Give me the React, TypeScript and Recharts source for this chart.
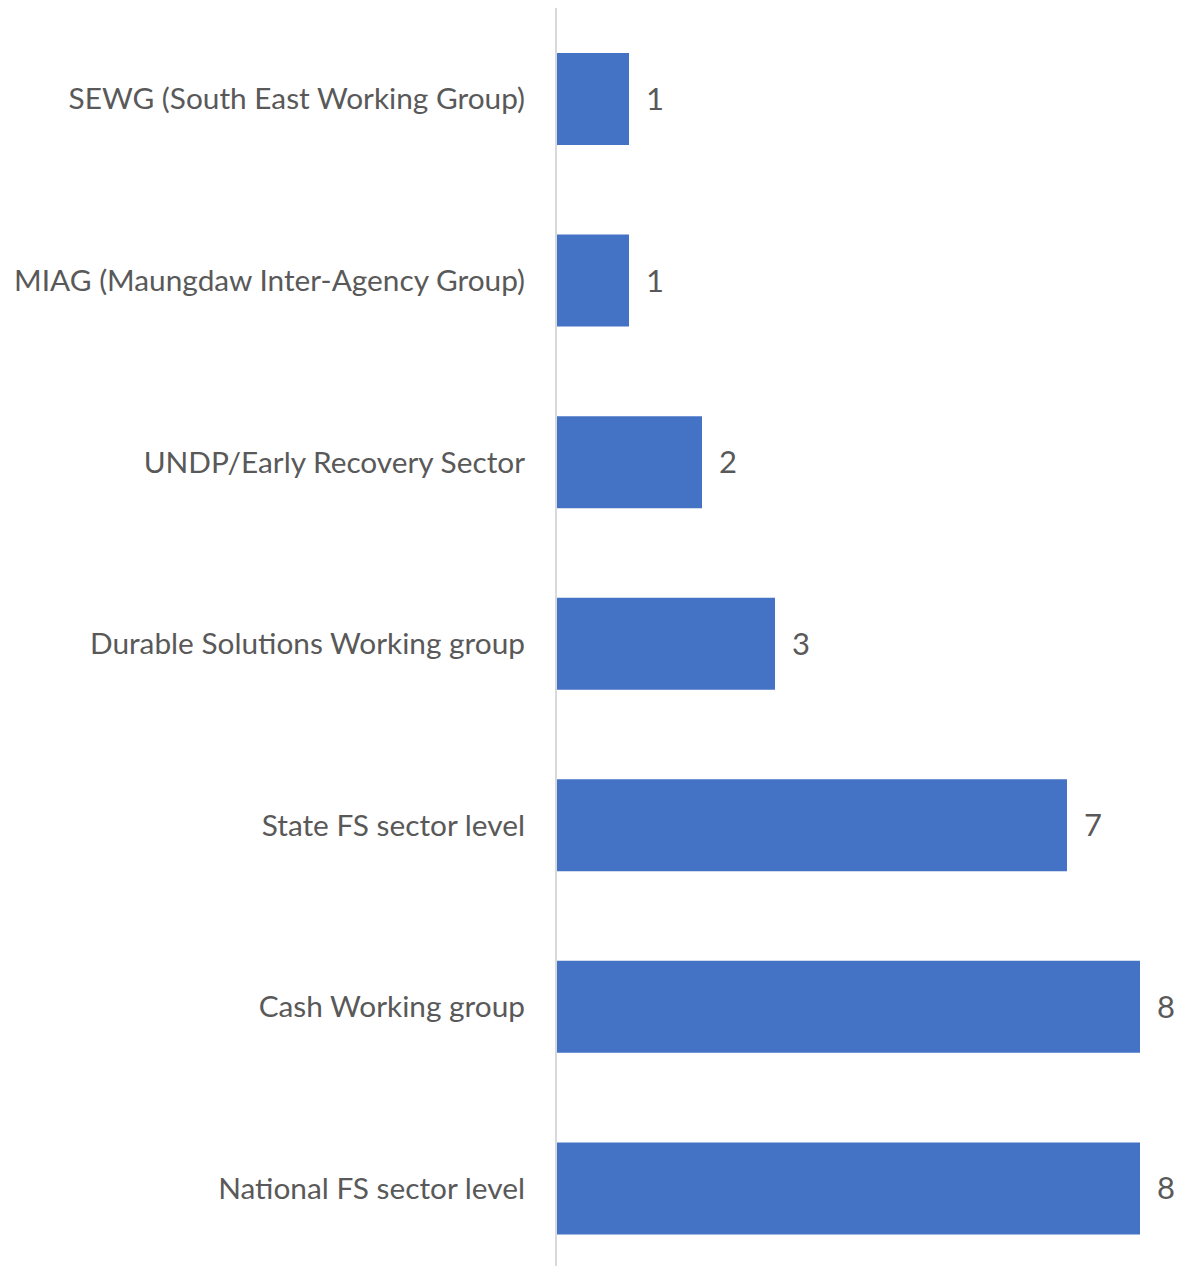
import React from 'react'
import { BarChart, Bar, XAxis, YAxis, LabelList } from 'recharts'

const categories = [
  'SEWG (South East Working Group)',
  'MIAG (Maungdaw Inter-Agency Group)',
  'UNDP/Early Recovery Sector',
  'Durable Solutions Working group',
  'State FS sector level',
  'Cash Working group',
  'National FS sector level',
]
const counts = [1, 1, 2, 3, 7, 8, 8]

const data = categories.map((name, i) => ({ name, value: counts[i] }))

const FONT = 'Lato, "Open Sans", sans-serif'

export default function App() {
  return (
    <div style={{ margin: -8, width: 1195, height: 1274, overflow: 'hidden', background: '#fff' }}>
      <BarChart
        layout="vertical"
        width={1195}
        height={1280}
        data={data}
        margin={{ top: 8, right: 55, bottom: 1, left: 0 }}
      >
        <XAxis type="number" domain={[0, 8]} hide />
        <YAxis
          type="category"
          dataKey="name"
          width={556}
          axisLine={{ stroke: '#d9d9d9', strokeWidth: 2 }}
          tickLine={false}
          tickMargin={25}
          interval={0}
          tick={{ fill: '#595959', fontSize: 29.8, fontFamily: FONT }}
        />
        <Bar dataKey="value" fill="#4472C4" barSize={92} isAnimationActive={false}>
          <LabelList
            dataKey="value"
            position="right"
            offset={17}
            style={{ fill: '#595959', fontSize: 31, fontFamily: FONT }}
          />
        </Bar>
      </BarChart>
    </div>
  )
}
